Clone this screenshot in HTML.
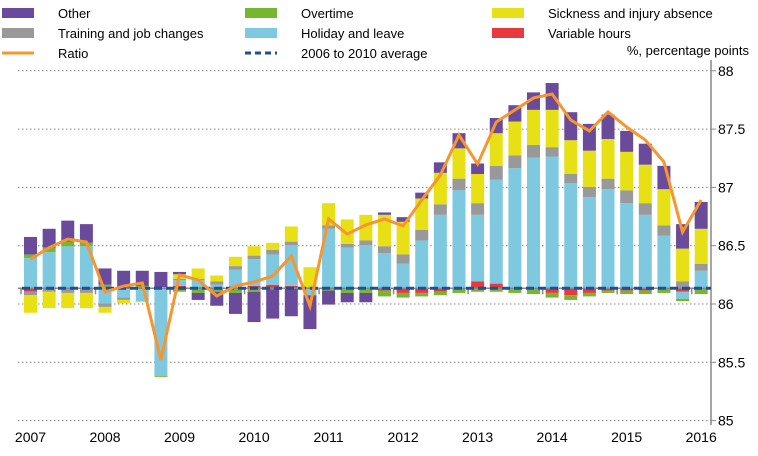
<!DOCTYPE html>
<html><head><meta charset="utf-8"><style>
body{margin:0;background:#fff;}
svg{display:block;font-family:"Liberation Sans",Arial,sans-serif;}
</style></head><body>
<svg id="chart" width="758" height="456" viewBox="0 0 758 456">
<g id="legend"></g>
<g id="grid"></g>
<g id="bars"></g>
<g id="axes"></g>
<g id="lines"></g>
</svg>
<script>
const years = ["2007","2008","2009","2010","2011","2012","2013","2014","2015","2016"];
const yTicks = [85, 85.5, 86, 86.5, 87, 87.5, 88];
const yTickLabels = ["85","85.5","86","86.5","87","87.5","88"];
const average = 86.135;
const variableHours = [-0.03,0,0,0,0.01,0,0,0,0.02,0.01,0,0,0.02,0.03,0.02,0,0,0,0,-0.02,-0.04,-0.04,-0.03,-0.01,0.06,0.04,0,0,-0.04,-0.06,-0.04,-0.02,-0.02,-0.02,-0.01,-0.03,0];
const holiday = [0.26,0.31,0.36,0.36,-0.13,-0.08,-0.11,-0.75,0.05,0.06,0.03,0.16,0.23,0.26,0.35,-0.06,0.51,0.35,0.37,0.30,0.21,0.41,0.63,0.84,0.57,0.89,1.03,1.12,1.13,0.90,0.78,0.85,0.73,0.63,0.45,-0.06,0.15];
const overtime = [0.03,0.04,0.04,0.03,0.02,0,0.02,-0.01,-0.03,-0.04,-0.03,-0.04,-0.03,-0.01,0,0,-0.02,-0.04,-0.04,-0.05,-0.04,-0.03,-0.03,-0.03,-0.03,-0.03,-0.04,-0.05,-0.04,-0.04,-0.03,-0.02,-0.03,-0.03,-0.03,-0.02,-0.05];
const training = [-0.03,-0.03,-0.04,-0.04,-0.03,-0.02,0,0,0.01,0.01,0.03,0.03,0.03,0.04,0.03,0.01,0.03,0.03,0.04,0.06,0.08,0.09,0.09,0.10,0.10,0.12,0.11,0.11,0.08,0.08,0.09,0.09,0.11,0.10,0.09,0.06,0.06];
const sickness = [-0.15,-0.14,-0.13,-0.13,-0.05,-0.03,-0.01,0.01,0.04,0.09,0.05,0.08,0.08,0.06,0.13,0.17,0.19,0.21,0.22,0.27,0.28,0.27,0.27,0.26,0.25,0.28,0.29,0.30,0.32,0.29,0.31,0.34,0.33,0.33,0.31,0.28,0.30];
const other = [0.15,0.16,0.18,0.16,0.14,0.15,0.13,0.13,0.02,-0.06,-0.12,-0.18,-0.26,-0.25,-0.24,-0.29,-0.12,-0.08,-0.08,0.02,0.04,0.05,0.09,0.13,0.09,0.13,0.14,0.15,0.23,0.24,0.23,0.21,0.18,0.18,0.20,0.21,0.23];
const ratio = [86.386,86.483,86.557,86.532,86.103,86.154,86.180,85.520,86.249,86.206,86.069,86.154,86.189,86.240,86.412,85.983,86.729,86.600,86.678,86.729,86.669,86.892,87.106,87.449,87.201,87.561,87.664,87.767,87.801,87.578,87.484,87.647,87.518,87.407,87.218,86.617,86.892];

const NS="http://www.w3.org/2000/svg";
function mk(tag,attrs,parent){const e=document.createElementNS(NS,tag);for(const k in attrs)e.setAttribute(k,attrs[k]);parent.appendChild(e);return e;}
const yScale=v=>304-(v-86)*116.6;
const xScale=i=>30.5+i*18.63;
const BW=13;
const plotL=18, plotR=711;

const grid=document.getElementById('grid');
yTicks.forEach((t,k)=>{
  const y=yScale(t);
  const gl=mk('line',{x1:plotL,x2:plotR,y1:y,y2:y,stroke:'#888','stroke-width':1,'stroke-dasharray':'1.5,2.5'},grid);
  
  
  const tl=mk('text',{x:718,y:y+5,'font-size':14,fill:'#000'},grid);
  tl.textContent=yTickLabels[k];
  
  
  const tk=mk('line',{x1:plotR,x2:plotR+5,y1:y,y2:y,stroke:'#888','stroke-width':1},grid);
  
  
});

const series=[
 {d:variableHours,c:'#E8393F',n:'variable-hours'},
 {d:holiday,c:'#7EC8E0',n:'holiday-and-leave'},
 {d:overtime,c:'#77B72F',n:'overtime'},
 {d:training,c:'#999999',n:'training-and-job-changes'},
 {d:sickness,c:'#E6E014',n:'sickness-and-injury'},
 {d:other,c:'#6A4A9A',n:'other'}
];
const bars=document.getElementById('bars');
for(let i=0;i<ratio.length;i++){
  let pos=average,neg=average;
  series.forEach(s=>{
    const v=s.d[i];
    if(v===0)return;
    let y0,y1;
    if(v>0){y0=pos;y1=pos+v;pos=y1;}else{y0=neg;y1=neg+v;neg=y1;}
    const ya=yScale(Math.max(y0,y1)),yb=yScale(Math.min(y0,y1));
    const r=mk('rect',{x:xScale(i)-BW/2,y:ya,width:BW,height:Math.max(yb-ya,0.5),fill:s.c},bars);
    
    
  });
}

const axes=document.getElementById('axes');
const ya=mk('line',{x1:plotR,x2:plotR,y1:60,y2:425,stroke:'#888','stroke-width':1.5},axes);


const bY=yScale(average);
const xa=mk('line',{x1:plotL,x2:plotR,y1:bY,y2:bY,stroke:'#888','stroke-width':1.5},axes);


years.forEach((yr,k)=>{
  const tx=xScale(k*4)-BW/2-3;
  const t=mk('line',{x1:tx,x2:tx,y1:bY,y2:bY+6,stroke:'#888','stroke-width':1.5},axes);
  
  
  const l=mk('text',{x:xScale(k*4),y:442,'font-size':14,'text-anchor':'middle',fill:'#000'},axes);
  l.textContent=yr;
  
  
});
const ut=mk('text',{x:749,y:55,'font-size':13,'text-anchor':'end',fill:'#000'},axes);
ut.textContent='%, percentage  points';



const lines=document.getElementById('lines');
const av=mk('line',{x1:plotL+4,x2:plotR,y1:bY,y2:bY,stroke:'#1F4E9A','stroke-width':3,'stroke-dasharray':'8,4'},lines);


const pts=ratio.map((v,i)=>xScale(i)+','+yScale(v)).join(' ');
const rl=mk('polyline',{points:pts,fill:'none',stroke:'#F7952F','stroke-width':3,'stroke-linejoin':'miter'},lines);



const legend=document.getElementById('legend');
const items=[
 ['Other','#6A4A9A','box',20,13],['Overtime','#77B72F','box',263,13],['Sickness and injury absence','#E6E014','box',510,13],
 ['Training and job changes','#999999','box',20,33],['Holiday and leave','#7EC8E0','box',263,33],['Variable hours','#E8393F','box',510,33],
 ['Ratio','#F7952F','line',20,53],['2006 to 2010  average','#1F4E9A','dash',263,53]
];
items.forEach(it=>{
  const [label,c,type,x,y]=it;
  let sw;
  if(type==='box')sw=mk('rect',{x:x-18,y:y-5,width:32,height:10,fill:c},legend);
  else if(type==='line')sw=mk('line',{x1:x-18,x2:x+14,y1:y,y2:y,stroke:c,'stroke-width':3},legend);
  else sw=mk('line',{x1:x-18,x2:x+14,y1:y,y2:y,stroke:c,'stroke-width':3,'stroke-dasharray':'6,4'},legend);
  
  
  const t=mk('text',{x:x+38,y:y+5,'font-size':13,fill:'#000'},legend);
  t.textContent=label;
  
  
});
</script>
</body></html>
